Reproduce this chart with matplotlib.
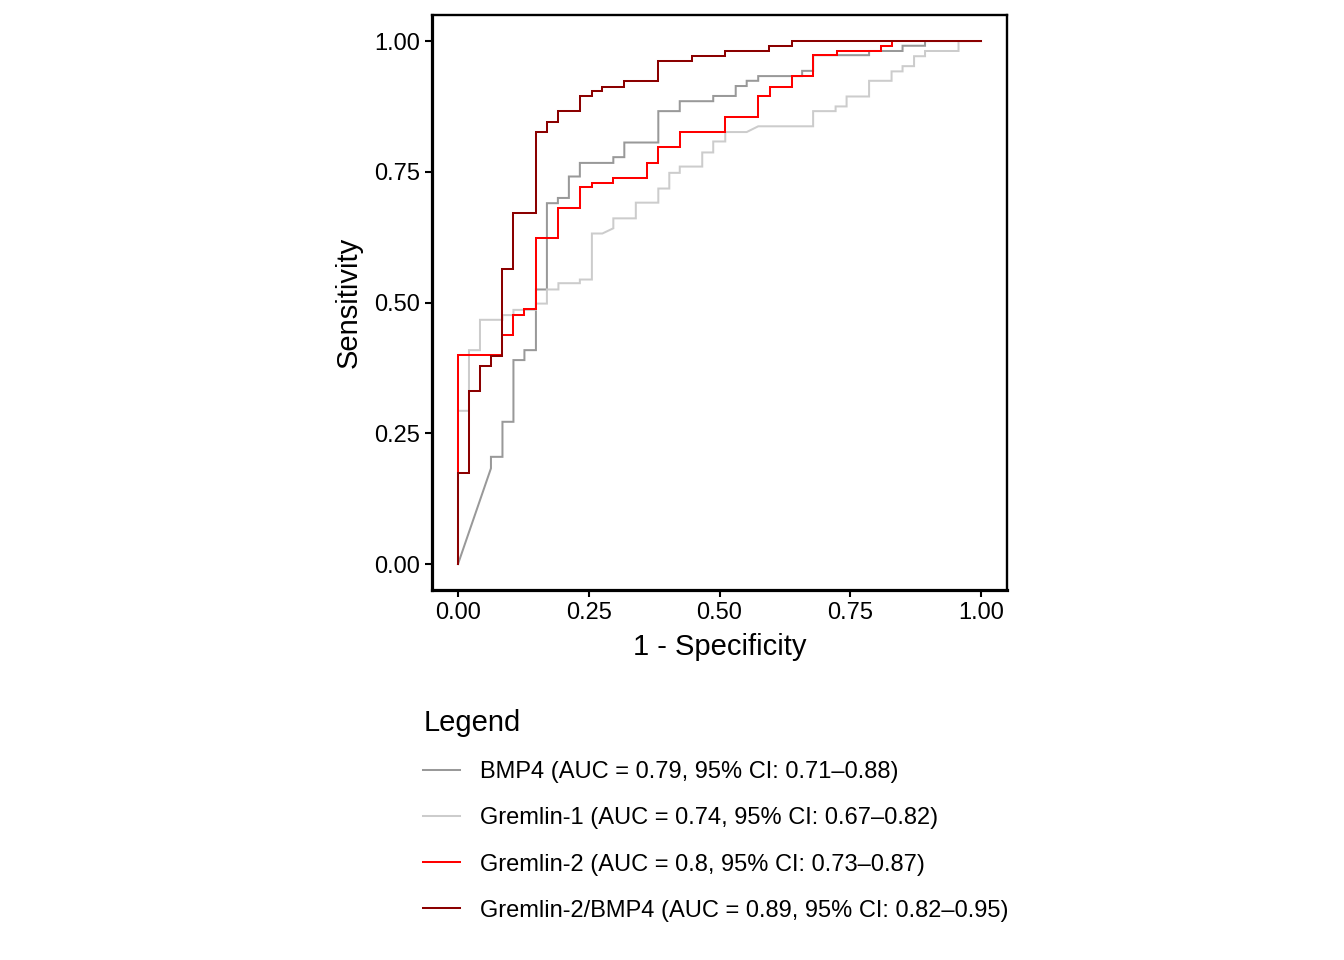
import matplotlib
matplotlib.use("Agg")
import matplotlib.pyplot as plt

plt.rcParams["font.family"] = ["Liberation Sans", "DejaVu Sans"]

# ROC curve vertices (1 - specificity, sensitivity)
bmp4_fpr = [0, 0.063, 0.063, 0.085, 0.085, 0.106, 0.106, 0.127, 0.127, 0.149, 0.149, 0.170, 0.170,
            0.191, 0.191, 0.212, 0.212, 0.233, 0.233, 0.297, 0.297, 0.318, 0.318, 0.383, 0.383,
            0.424, 0.424, 0.488, 0.488, 0.531, 0.531, 0.552, 0.552, 0.574, 0.574, 0.658, 0.658,
            0.679, 0.679, 0.786, 0.786, 0.850, 0.850, 0.893, 0.893, 1.0]
bmp4_tpr = [0, 0.183, 0.205, 0.205, 0.272, 0.272, 0.390, 0.390, 0.409, 0.409, 0.525, 0.525, 0.690,
            0.690, 0.700, 0.700, 0.741, 0.741, 0.767, 0.767, 0.778, 0.778, 0.806, 0.806, 0.866,
            0.866, 0.885, 0.885, 0.895, 0.895, 0.914, 0.914, 0.924, 0.924, 0.933, 0.933, 0.943,
            0.943, 0.973, 0.973, 0.981, 0.981, 0.991, 0.991, 1.0, 1.0]

grem1_fpr = [0, 0, 0.021, 0.021, 0.042, 0.042, 0.085, 0.085, 0.106, 0.106, 0.149, 0.149, 0.170,
             0.170, 0.192, 0.192, 0.233, 0.233, 0.256, 0.256, 0.276, 0.297, 0.297, 0.340, 0.340,
             0.383, 0.383, 0.404, 0.404, 0.424, 0.424, 0.467, 0.467, 0.488, 0.488, 0.511, 0.511,
             0.552, 0.574, 0.679, 0.679, 0.722, 0.722, 0.743, 0.743, 0.786, 0.786, 0.829, 0.829,
             0.850, 0.850, 0.872, 0.872, 0.893, 0.893, 0.957, 0.957, 1.0]
grem1_tpr = [0, 0.293, 0.293, 0.409, 0.409, 0.467, 0.467, 0.476, 0.476, 0.486, 0.486, 0.498, 0.498,
             0.525, 0.525, 0.537, 0.537, 0.544, 0.544, 0.632, 0.632, 0.642, 0.661, 0.661, 0.691,
             0.691, 0.718, 0.718, 0.748, 0.748, 0.760, 0.760, 0.787, 0.787, 0.808, 0.808, 0.826,
             0.826, 0.837, 0.837, 0.866, 0.866, 0.875, 0.875, 0.894, 0.894, 0.924, 0.924, 0.942,
             0.942, 0.952, 0.952, 0.971, 0.971, 0.981, 0.981, 1.0, 1.0]

grem2_fpr = [0, 0, 0.085, 0.085, 0.106, 0.106, 0.127, 0.127, 0.149, 0.149, 0.191, 0.191, 0.233,
             0.233, 0.256, 0.256, 0.297, 0.297, 0.361, 0.361, 0.383, 0.383, 0.424, 0.424, 0.511,
             0.511, 0.574, 0.574, 0.597, 0.597, 0.638, 0.638, 0.679, 0.679, 0.724, 0.724, 0.809,
             0.809, 0.829, 0.829, 1.0]
grem2_tpr = [0, 0.400, 0.400, 0.438, 0.438, 0.477, 0.477, 0.487, 0.487, 0.623, 0.623, 0.680, 0.680,
             0.720, 0.720, 0.729, 0.729, 0.739, 0.739, 0.767, 0.767, 0.797, 0.797, 0.827, 0.827,
             0.855, 0.855, 0.894, 0.894, 0.913, 0.913, 0.933, 0.933, 0.973, 0.973, 0.981, 0.981,
             0.991, 0.991, 1.0, 1.0]

combo_fpr = [0, 0, 0.021, 0.021, 0.042, 0.042, 0.064, 0.064, 0.085, 0.085, 0.106, 0.106, 0.149,
             0.149, 0.170, 0.170, 0.191, 0.191, 0.233, 0.233, 0.256, 0.256, 0.276, 0.276, 0.318,
             0.318, 0.383, 0.383, 0.447, 0.447, 0.511, 0.511, 0.595, 0.595, 0.638, 0.638, 1.0]
combo_tpr = [0, 0.175, 0.175, 0.331, 0.331, 0.379, 0.379, 0.398, 0.398, 0.564, 0.564, 0.672, 0.672,
             0.827, 0.827, 0.846, 0.846, 0.866, 0.866, 0.894, 0.894, 0.904, 0.904, 0.913, 0.913,
             0.923, 0.923, 0.962, 0.962, 0.972, 0.972, 0.981, 0.981, 0.991, 0.991, 1.0, 1.0]

labels = ["BMP4 (AUC = 0.79, 95% CI: 0.71\u20130.88)",
          "Gremlin-1 (AUC = 0.74, 95% CI: 0.67\u20130.82)",
          "Gremlin-2 (AUC = 0.8, 95% CI: 0.73\u20130.87)",
          "Gremlin-2/BMP4 (AUC = 0.89, 95% CI: 0.82\u20130.95)"]
colors = ["#999999", "#cccccc", "#ff0000", "#8b0000"]
curves = [(bmp4_fpr, bmp4_tpr), (grem1_fpr, grem1_tpr), (grem2_fpr, grem2_tpr), (combo_fpr, combo_tpr)]

fig = plt.figure(figsize=(13.44, 9.6), dpi=100)
ax = fig.add_axes([431.85 / 1344, 1 - 590.2 / 960, 575.3 / 1344, 575.3 / 960])

handles = []
for (fx, ty), col, lab in zip(curves, colors, labels):
    h, = ax.plot(fx, ty, color=col, lw=1.45, label=lab, solid_joinstyle="miter")
    handles.append(h)

ax.set_xlim(-0.05, 1.05)
ax.set_ylim(-0.05, 1.05)
ticks = [0, 0.25, 0.5, 0.75, 1.0]
tick_labels = ["0.00", "0.25", "0.50", "0.75", "1.00"]
ax.set_xticks(ticks)
ax.set_xticklabels(tick_labels)
ax.set_yticks(ticks)
ax.set_yticklabels(tick_labels)
ax.tick_params(length=5, width=1.5, labelsize=17, color="black", labelcolor="black", pad=3.5)

for side in ["left", "bottom"]:
    ax.spines[side].set_linewidth(2.3)
for side in ["top", "right"]:
    ax.spines[side].set_linewidth(1.7)

ax.set_xlabel("1 - Specificity", fontsize=21, labelpad=6.5)
ax.set_ylabel("Sensitivity", fontsize=21, labelpad=8)

leg = fig.legend(handles=handles, labels=labels, title="Legend", loc="upper left",
                 bbox_to_anchor=(402 / 1344, 1 - 688 / 960), frameon=False,
                 fontsize=17, title_fontsize=21, handlelength=1.57, handletextpad=0.85,
                 labelspacing=1.02, alignment="left")

fig.savefig("out.png", dpi=100)
